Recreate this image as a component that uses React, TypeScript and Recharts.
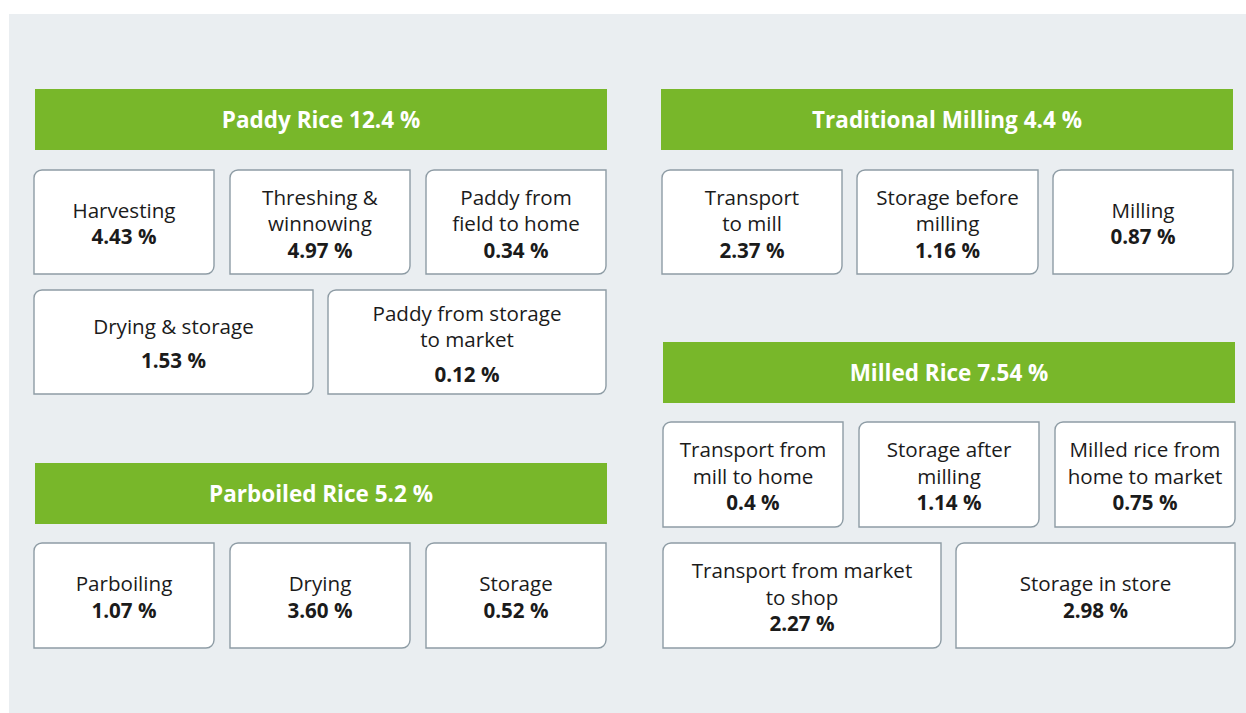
import { ScatterChart, Scatter, XAxis, YAxis } from "recharts";

// panel (grey background) position on the page and size
const PANEL_LEFT = 9;
const PANEL_TOP = 14;
const W = 1237;
const H = 699;

const FONT = "'Open Sans', 'Noto Sans', sans-serif";
const GREEN = "#78b72a";
const GREY_BG = "#eaeef1";
const BORDER = "#8e9ca5";
const TEXT = "#1b1b1b";

// data
const groupNames = ["Paddy Rice", "Parboiled Rice", "Traditional Milling", "Milled Rice"];
const groupTotals = ["12.4", "5.2", "4.4", "7.54"];

const paddyStages = ["Harvesting", "Threshing &\nwinnowing", "Paddy from\nfield to home", "Drying & storage", "Paddy from storage\nto market"];
const paddyValues = ["4.43", "4.97", "0.34", "1.53", "0.12"];

const parboiledStages = ["Parboiling", "Drying", "Storage"];
const parboiledValues = ["1.07", "3.60", "0.52"];

const millingStages = ["Transport\nto mill", "Storage before\nmilling", "Milling"];
const millingValues = ["2.37", "1.16", "0.87"];

const milledStages = ["Transport from\nmill to home", "Storage after\nmilling", "Milled rice from\nhome to market", "Transport from market\nto shop", "Storage in store"];
const milledValues = ["0.4", "1.14", "0.75", "2.27", "2.98"];

// layout (page pixels: left, top, width, height)
const headerBoxes = [
  [35, 89, 572, 61],
  [35, 463, 572, 61],
  [661, 89, 572, 61],
  [663, 342, 572, 61],
];

const stageBoxes = [
  [[34, 170, 180, 104], [230, 170, 180, 104], [426, 170, 180, 104], [34, 290, 279, 104], [328, 290, 278, 104]],
  [[34, 543, 180, 105], [230, 543, 180, 105], [426, 543, 180, 105]],
  [[662, 170, 180, 104], [857, 170, 181, 104], [1053, 170, 180, 104]],
  [[663, 422, 180, 105], [859, 422, 180, 105], [1055, 422, 180, 105], [663, 543, 278, 105], [956, 543, 279, 105]],
];
// extra space before the value line
const valueGaps = [[0, 0, 0, 8, 8], [0, 0, 0], [0, 0, 0], [0, 0, 0, 0, 0]];

const stageLabels = [paddyStages, parboiledStages, millingStages, milledStages];
const stageValues = [paddyValues, parboiledValues, millingValues, milledValues];

const headerData = groupNames.map((name, i) => {
  const [l, t, w, h] = headerBoxes[i];
  return { x: l - PANEL_LEFT + w / 2, y: t - PANEL_TOP + h / 2, w, h, label: `${name} ${groupTotals[i]} %` };
});

const stageData = stageLabels.flatMap((labels, g) =>
  labels.map((label, i) => {
    const [l, t, w, h] = stageBoxes[g][i];
    return {
      x: l - PANEL_LEFT + w / 2,
      y: t - PANEL_TOP + h / 2,
      w,
      h,
      lines: label.split("\n"),
      value: `${stageValues[g][i]} %`,
      gap: valueGaps[g][i],
    };
  })
);

const HeaderShape = (props: any) => {
  const { cx, cy, payload } = props;
  const { w, h, label } = payload;
  return (
    <g>
      <rect x={cx - w / 2} y={cy - h / 2} width={w} height={h} fill={GREEN} />
      <text x={cx} y={cy - 0.5} textAnchor="middle" dominantBaseline="central" fill="#fff" fontFamily={FONT} fontWeight={700} fontSize={22.5}>
        {label}
      </text>
    </g>
  );
};

const StageShape = (props: any) => {
  const { cx, cy, payload } = props;
  const { w, h, lines, value, gap } = payload;
  const x0 = cx - w / 2;
  const y0 = cy - h / 2;
  const r = 8;
  const d = `M${x0},${y0 + r} A${r},${r} 0 0 1 ${x0 + r},${y0} L${x0 + w},${y0} L${x0 + w},${y0 + h - r} A${r},${r} 0 0 1 ${x0 + w - r},${y0 + h} L${x0},${y0 + h} Z`;
  const pitch = 26.5;
  const n = lines.length + 1;
  const block = (n - 1) * pitch + gap;
  const start = cy + 1 - block / 2;
  return (
    <g>
      <path d={d} fill="#fff" stroke={BORDER} strokeWidth={1.4} />
      <text textAnchor="middle" dominantBaseline="central" fontFamily={FONT} fontSize={20.6} fill={TEXT}>
        {lines.map((ln: string, i: number) => (
          <tspan key={i} x={cx} y={start + i * pitch}>
            {ln}
          </tspan>
        ))}
        <tspan x={cx} y={start + lines.length * pitch + gap} fontWeight={700}>
          {value}
        </tspan>
      </text>
    </g>
  );
};

export default function App() {
  return (
    <div style={{ position: "absolute", left: PANEL_LEFT, top: PANEL_TOP, width: W, height: H, background: GREY_BG }}>
      <ScatterChart width={W} height={H} margin={{ top: 0, right: 0, bottom: 0, left: 0 }}>
        <XAxis type="number" dataKey="x" domain={[0, W]} hide />
        <YAxis type="number" dataKey="y" domain={[0, H]} reversed hide />
        <Scatter data={headerData} shape={HeaderShape} isAnimationActive={false} />
        <Scatter data={stageData} shape={StageShape} isAnimationActive={false} />
      </ScatterChart>
    </div>
  );
}
